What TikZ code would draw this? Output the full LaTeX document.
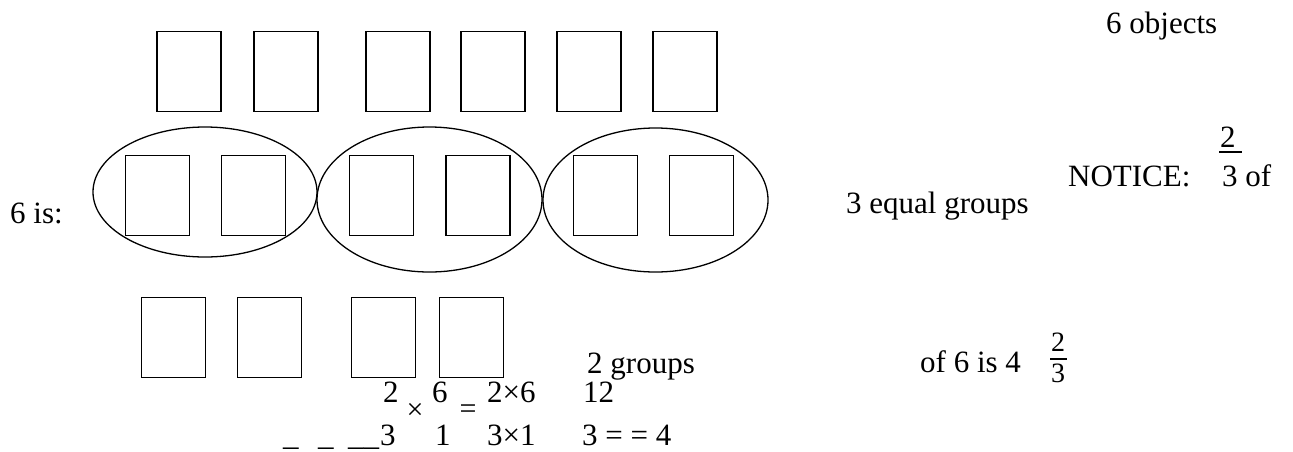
\documentclass[tikz,border=0pt]{standalone}
\usepackage{fontspec}
\setmainfont{Liberation Serif}
\usetikzlibrary{shapes.geometric}
\begin{document}
\begin{tikzpicture}[x=1pt,y=-1pt,
  obj/.style={draw, line width=1.5pt, minimum width=64pt, minimum height=80pt, inner sep=0pt, outer sep=0pt},
  grp/.style={draw, ellipse, line width=1.3pt, inner sep=0pt},
  txt/.style={anchor=base west, inner sep=0pt, font=\fontsize{31}{36}\selectfont},
  stxt/.style={anchor=base west, inner sep=0pt, font=\fontsize{28}{32}\selectfont},
  ctxt/.style={anchor=center, inner sep=0pt, font=\fontsize{30}{34}\selectfont},
  bar/.style={line width=1.2pt}]
\useasboundingbox (0,0) rectangle (1293,451);
% top row: 6 objects
\node[obj] (t1) at (189,71.5) {};
\node[obj] (t2) at (286,71.5) {};
\node[obj] (t3) at (398,71.5) {};
\node[obj] (t4) at (493,71.5) {};
\node[obj] (t5) at (589,71.5) {};
\node[obj] (t6) at (685,71.5) {};
% middle row: 3 groups
\node[grp, minimum width=224pt, minimum height=130pt] (g1) at (205,192) {};
\node[grp, minimum width=225pt, minimum height=145pt] (g2) at (429.5,199.5) {};
\node[grp, minimum width=225pt, minimum height=144pt] (g3) at (655.5,200) {};
\node[obj] (m1) at (157.5,195.5) {};
\node[obj] (m2) at (253.5,195.5) {};
\node[obj] (m3) at (381.5,195.5) {};
\node[obj] (m4) at (478,195.5) {};
\node[obj] (m5) at (605.5,195.5) {};
\node[obj] (m6) at (701.5,195.5) {};
% bottom row: 2 groups
\node[obj] (b1) at (173.5,337.5) {};
\node[obj] (b2) at (269.5,337.5) {};
\node[obj] (b3) at (383.5,337.5) {};
\node[obj] (b4) at (471.5,337.5) {};
% labels
\node[txt] (objs) at (1106,33) {6 objects};
\node[txt] (sixis) at (10,223) {6 is:};
\node[txt] (eqg) at (846,213) {3 equal groups};
\node[txt] (notice) at (1068,186) {NOTICE:};
\node[txt] (nnum) at (1220,147) {2};
\node[txt] (nden) at (1222,186) {3 of};
\coordinate (nbl) at (1219,152);
\coordinate (nbr) at (1242,152);
\draw[bar] (nbl) -- (nbr);
\node[txt] (twog) at (587,373) {2 groups};
\node[txt] (of6) at (920,372) {of 6 is 4};
\node[stxt] (fnum) at (1051,351) {2};
\node[stxt] (fden) at (1051,382) {3};
\coordinate (fbl) at (1050,359);
\coordinate (fbr) at (1067,359);
\draw[bar] (fbl) -- (fbr);
% equation row 1
\node[txt] (e1) at (383,402) {2};
\node[ctxt] (e2) at (415,411) {×};
\node[txt] (e3) at (432,402) {6};
\node[ctxt] (e4) at (468,412) {=};
\node[txt] (e5) at (487,402) {2×6};
\node[txt] (e6) at (583,402) {12};
% equation row 2
\node[txt] (u1) at (283,445) {\_};
\node[txt] (u2) at (318,445) {\_};
\node[txt] (u3) at (348,445) {\_\_};
\node[txt] (d1) at (380,445) {3};
\node[txt] (d2) at (435,445) {1};
\node[txt] (d3) at (487,445) {3×1};
\node[txt] (d4) at (582,445) {3 = = 4};
\end{tikzpicture}
\end{document}
